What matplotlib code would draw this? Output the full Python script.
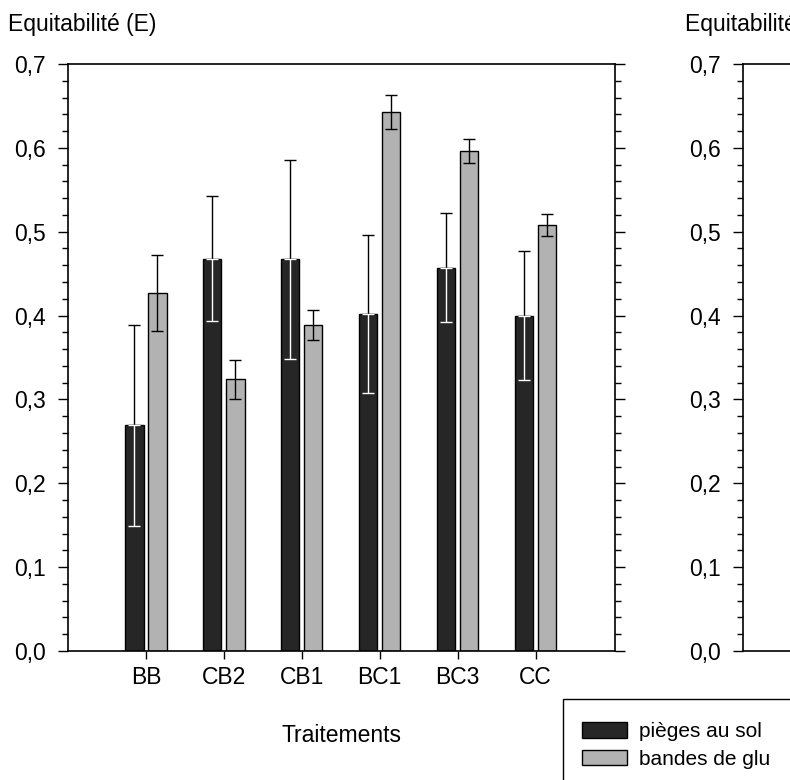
import matplotlib
matplotlib.use("Agg")
from matplotlib import pyplot as plt
from matplotlib.patches import Rectangle, Patch
from matplotlib.ticker import MultipleLocator
import numpy as np

# ------------ DATA
categories = ["BB", "CB2", "CB1", "BC1", "BC3", "CC"]
pieges_sol = [0.269, 0.468, 0.467, 0.402, 0.457, 0.400]
pieges_sol_err = [0.120, 0.074, 0.119, 0.094, 0.065, 0.077]
bandes_glu = [0.427, 0.324, 0.389, 0.643, 0.596, 0.508]
bandes_glu_err = [0.045, 0.023, 0.018, 0.020, 0.014, 0.013]
series_names = ["pièges au sol", "bandes de glu"]

# ------------ STYLE
plt.rcParams['font.family'] = ['Liberation Sans', 'DejaVu Sans']
fs = 16.5
plt.rcParams['font.size'] = fs
dark = "#262626"
grey = "#b2b2b2"
bar_w = 0.235
off = 0.148

fig = plt.figure(figsize=(7.9, 7.8), dpi=100)
ax = fig.add_axes([68 / 790, 129 / 780, (615 - 68) / 790, (651 - 64) / 780])

x = np.arange(1, len(categories) + 1)

ax.bar(x - off, pieges_sol, bar_w, color=dark, edgecolor="black", linewidth=1.0, zorder=2)
ax.bar(x + off, bandes_glu, bar_w, color=grey, edgecolor="black", linewidth=1.0, zorder=2)

# error bars: lower half white on dark bars, upper half black
zeros = np.zeros(len(categories))
ax.errorbar(x - off, pieges_sol, yerr=[zeros, pieges_sol_err], fmt="none", ecolor="black",
            elinewidth=1.0, capsize=4, capthick=1.0, zorder=3)
ax.errorbar(x - off, pieges_sol, yerr=[pieges_sol_err, zeros], fmt="none", ecolor="white",
            elinewidth=1.0, capsize=4, capthick=1.0, zorder=4)
ax.errorbar(x + off, bandes_glu, yerr=bandes_glu_err, fmt="none", ecolor="black",
            elinewidth=1.0, capsize=4, capthick=1.0, zorder=3)

ax.set_xlim(0, 7.02)
ax.set_ylim(0, 0.7)
ax.set_xticks(x)
ax.set_xticklabels(categories)
ax.yaxis.set_major_locator(MultipleLocator(0.1))
ax.yaxis.set_minor_locator(MultipleLocator(0.02))
ax.yaxis.set_major_formatter(lambda v, p: f"{v:.1f}".replace(".", ","))
ax.tick_params(axis="y", which="major", direction="out", length=7, width=1.0, pad=9,
               right=True, labelright=False)
ax.tick_params(axis="y", which="minor", direction="out", length=4.5, width=1.0, right=True)
ax.tick_params(axis="x", which="major", direction="out", length=6, width=1.0, pad=5)
for s in ax.spines.values():
    s.set_linewidth(1.2)
ax.set_xlabel("Traitements", labelpad=25)

fig.text(8 / 790, 1 - 25 / 780, "Equitabilité (E)", ha="left", va="center", fontsize=fs)

# ------------ second (cropped) panel
ax2 = fig.add_axes([743 / 790, 129 / 780, 0.7, (651 - 64) / 780])
ax2.set_ylim(0, 0.7)
ax2.set_xlim(0, 7)
ax2.set_xticks([])
ax2.yaxis.set_major_locator(MultipleLocator(0.1))
ax2.yaxis.set_minor_locator(MultipleLocator(0.02))
ax2.yaxis.set_major_formatter(lambda v, p: f"{v:.1f}".replace(".", ","))
ax2.tick_params(axis="y", which="major", direction="out", length=7, width=1.0, pad=9)
ax2.tick_params(axis="y", which="minor", direction="out", length=4.5, width=1.0)
for s in ax2.spines.values():
    s.set_linewidth(1.2)
fig.text(685 / 790, 1 - 25 / 780, "Equitabilité (E)", ha="left", va="center", fontsize=fs)

# ------------ legend (box cropped at figure edge)
fig.patches.append(Rectangle((563 / 790, -0.05), 0.5, (780 - 699) / 780 + 0.05,
                             transform=fig.transFigure, facecolor="white",
                             edgecolor="black", linewidth=1.0, zorder=5))
handles = [Patch(facecolor=dark, edgecolor="black", linewidth=1.0),
           Patch(facecolor=grey, edgecolor="black", linewidth=1.0)]
leg = fig.legend(handles, series_names, loc="upper left",
                 bbox_to_anchor=(567 / 790, 1 - 707 / 780), frameon=False,
                 handlelength=2.2, handleheight=0.8, handletextpad=0.55,
                 labelspacing=0.42, borderpad=0.2, fontsize=15)
leg.set_zorder(6)

fig.savefig("out.png", dpi=100)
